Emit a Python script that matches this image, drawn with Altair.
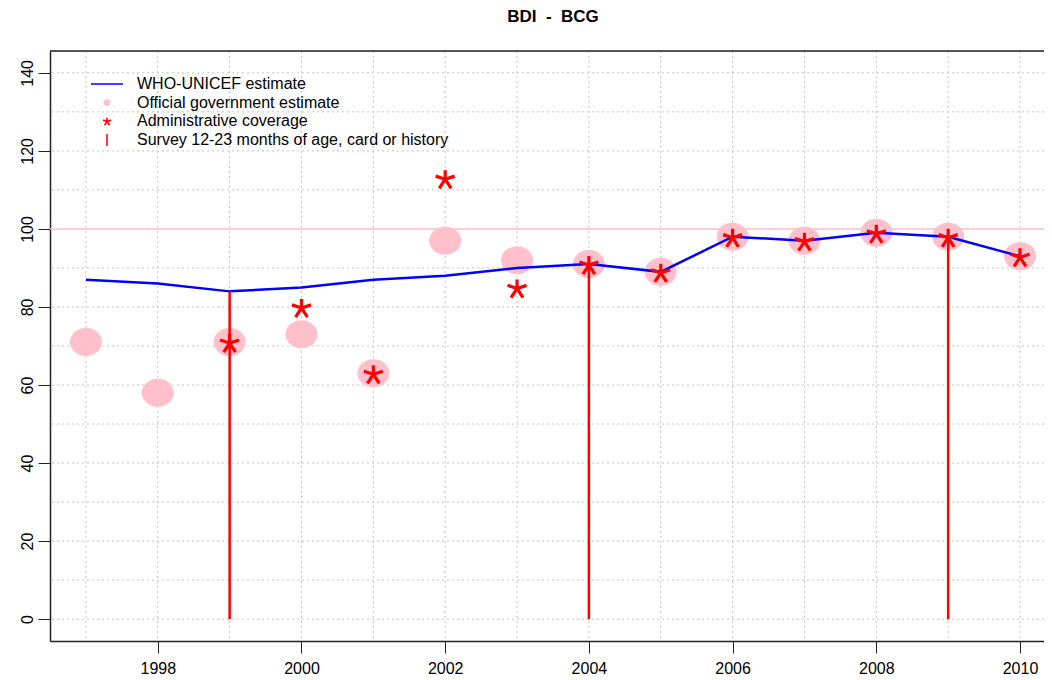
import altair as alt
import pandas as pd

# ---- data ----
years = list(range(1997, 2011))
who_unicef = [87, 86, 84, 85, 87, 88, 90, 91, 89, 98, 97, 99, 98, 93]
official = [71, 58, 71, 73, 63, 97, 92, 91, 89, 98, 97, 99, 98, 93]
admin_years = list(range(1999, 2011))
admin = [71, 80, 63, 113, 85, 91, 89, 98, 97, 99, 98, 93]
survey_years = [1999, 2004, 2009]
survey = [84, 91, 98]
x_ticks = [1998, 2000, 2002, 2004, 2006, 2008, 2010]
y_ticks = [0, 20, 40, 60, 80, 100, 120, 140]
grid_x = list(range(1997, 2011))
grid_y = list(range(0, 150, 10))
ref_line = [100]
legend_labels = [
    "WHO-UNICEF estimate",
    "Official government estimate",
    "Administrative coverage",
    "Survey 12-23 months of age, card or history",
]
title_text = "BDI\u00a0\u00a0-\u00a0\u00a0BCG"

W, H = 994, 590
FONT = "Liberation Sans"

main = pd.DataFrame({"year": years, "who": who_unicef, "official": official})
adm = pd.DataFrame({"year": admin_years, "admin": admin})
srv = pd.DataFrame({"year": survey_years, "survey": survey})
gx = pd.DataFrame({"g": grid_x})
gy = pd.DataFrame({"g": grid_y})
refdf = pd.DataFrame({"r": ref_line})

xscale = alt.Scale(domain=[1996.5, 2010.334], nice=False, zero=False)
yscale = alt.Scale(domain=[-5.6, 145.6], nice=False, zero=False)

xaxis = alt.Axis(values=x_ticks, format="d", title=None, grid=False,
                 tickSize=12, labelFontSize=16, labelPadding=7,
                 labelColor="black", tickColor="#222", domainColor="#222",
                 domainWidth=1.5, tickWidth=1, labelFont=FONT, labelFlush=False)
yaxis = alt.Axis(values=y_ticks, title=None, grid=False, tickSize=12,
                 labelFontSize=16, labelAngle=270, labelAlign="center",
                 labelBaseline="bottom", labelPadding=3, labelColor="black",
                 tickColor="#222", domainColor="#222", domainWidth=1.5,
                 labelFont=FONT)

X = lambda f: alt.X(f, scale=xscale, axis=xaxis)
Y = lambda f: alt.Y(f, scale=yscale, axis=yaxis)

grid_v = alt.Chart(gx).mark_rule(color="#c4c4c4", strokeDash=[2, 3], strokeWidth=1).encode(
    x=X("g:Q"))
grid_h = alt.Chart(gy).mark_rule(color="#c4c4c4", strokeDash=[2, 3], strokeWidth=1).encode(
    y=Y("g:Q"))
ref = alt.Chart(refdf).mark_rule(color="#ffc0cb", strokeWidth=1.5).encode(
    y=Y("r:Q"))

ellipse = "M-1,0A1,0.875,0,1,1,1,0A1,0.875,0,1,1,-1,0Z"
asterisk = ("M0,0.1L0,-0.8M0,0.1L0.95,-0.21M0,0.1L-0.95,-0.21"
            "M0,0.1L0.59,1.01M0,0.1L-0.59,1.01")

circles = alt.Chart(main).mark_point(shape=ellipse, filled=True, color="#ffc0cb",
                                     opacity=1, size=1024).encode(
    x=X("year:Q"), y=Y("official:Q"))
line = alt.Chart(main).mark_line(color="#0000ff", strokeWidth=2.5).encode(
    x=X("year:Q"), y=Y("who:Q"))
rules = alt.Chart(srv).mark_rule(color="#ff0000", strokeWidth=2.5).encode(
    x=X("year:Q"), y=Y("survey:Q"), y2=alt.datum(0))
stars = alt.Chart(adm).mark_point(shape=asterisk, filled=False, color="#ff0000",
                                  opacity=1, size=400, strokeWidth=3.2).encode(
    x=X("year:Q"), y=Y("admin:Q"))

top_border = alt.Chart(refdf).mark_rule(color="#222", strokeWidth=1.5).encode(
    x=alt.value(0), x2=alt.value(W), y=alt.value(0))

title = alt.Chart(refdf).mark_text(text=title_text, font=FONT, fontSize=17,
                                   fontWeight="bold", align="center",
                                   baseline="middle", color="black").encode(
    x=alt.value(503), y=alt.value(-34))

# legend
row_y = [33, 51.5, 70, 89]
leg = []
leg.append(alt.Chart(refdf).mark_rule(color="#0000ff", strokeWidth=1.5).encode(
    x=alt.value(41), x2=alt.value(73), y=alt.value(row_y[0])))
leg.append(alt.Chart(refdf).mark_point(shape="circle", filled=True, color="#ffc0cb",
                                       opacity=1, size=45).encode(
    x=alt.value(57), y=alt.value(row_y[1])))
leg.append(alt.Chart(refdf).mark_point(shape=asterisk, filled=False, color="#ff0000",
                                       opacity=1, size=70, strokeWidth=1.6).encode(
    x=alt.value(57), y=alt.value(row_y[2])))
leg.append(alt.Chart(refdf).mark_rule(color="#ff0000", strokeWidth=1.5).encode(
    x=alt.value(57), y=alt.value(row_y[3] - 6), y2=alt.value(row_y[3] + 6)))
for lab, yy in zip(legend_labels, row_y):
    leg.append(alt.Chart(refdf).mark_text(text=lab, font=FONT, fontSize=16,
                                          align="left", baseline="middle",
                                          color="black").encode(
        x=alt.value(87), y=alt.value(yy)))

chart = alt.layer(
    grid_v, grid_h, ref, circles, line, rules, stars, top_border, title, *leg
).properties(
    width=W, height=H,
    autosize=alt.AutoSizeParams(type="none"),
    padding={"left": 42, "top": 43, "right": 0, "bottom": 36},
    background="white",
).configure_view(stroke=None).configure(font=FONT)

chart.save("out.html", embed_options={"renderer": "svg", "actions": False})
